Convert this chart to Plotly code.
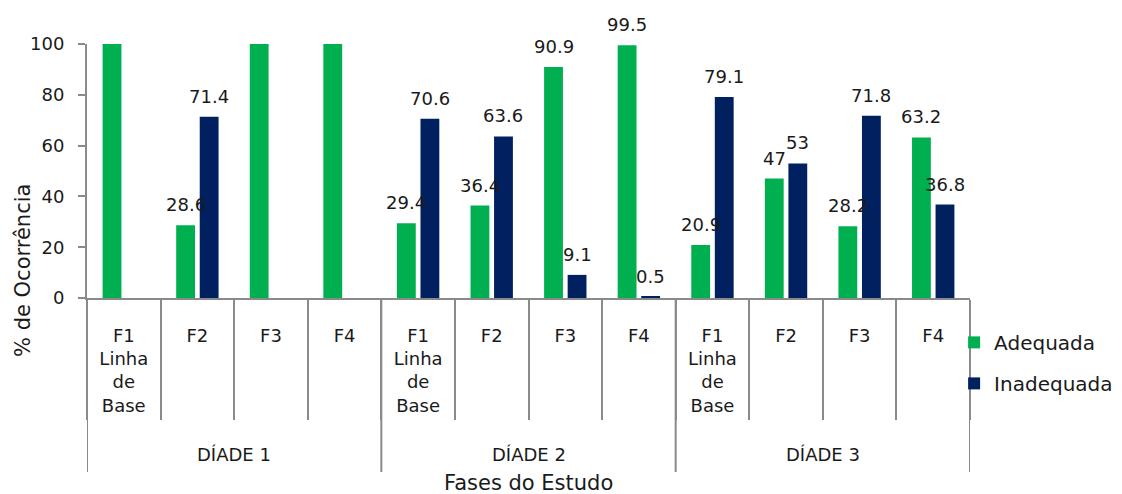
import plotly.graph_objects as go

groups = ["DÍADE 1", "DÍADE 2", "DÍADE 3"]
fase_labels = ["F1<br>Linha<br>de<br>Base", "F2", "F3", "F4"]
adequada = [100, 28.6, 100, 100, 29.4, 36.4, 90.9, 99.5, 20.9, 47, 28.2, 63.2]
inadequada = [0, 71.4, 0, 0, 70.6, 63.6, 9.1, 0.5, 79.1, 53, 71.8, 36.8]
yticks = [0, 20, 40, 60, 80, 100]

GREEN = "#00B050"
NAVY = "#002060"
AXIS = "#8a8a8a"
TXT = "#1a1a1a"
FONT = "DejaVu Sans"

n_per = len(fase_labels)
fases = fase_labels * len(groups)
x_pos = list(range(len(fases)))
bounds = [i - 0.5 for i in range(len(fases) + 1)]
group_bounds = [g * n_per - 0.5 for g in range(len(groups) + 1)]
group_centers = [g * n_per + (n_per - 1) / 2 for g in range(len(groups))]

BARGAP = 0.36
BARGROUPGAP = 0.2
slot = (1 - BARGAP) / 2

fig = go.Figure()
fig.add_trace(go.Bar(x=x_pos, y=adequada, name="Adequada", marker_color=GREEN,
                     marker_line_width=0, legendgroup="a"))
fig.add_trace(go.Bar(x=x_pos, y=inadequada, name="Inadequada", marker_color=NAVY,
                     marker_line_width=0, legendgroup="b"))

annotations = []
for vals, off in ((adequada, -slot / 2), (inadequada, slot / 2)):
    for i, v in zip(x_pos, vals):
        if 0 < v < 100:
            annotations.append(dict(
                x=i + off, y=v, xref="x", yref="y", text="%g" % v,
                showarrow=False, yanchor="bottom", xanchor="center", yshift=8,
                font=dict(size=18, color=TXT, family=FONT)))

PH = 254.0  # plot height in px (for paper offsets below axis)
PW = 883.0
for g, c in zip(groups, group_centers):
    annotations.append(dict(x=c, y=-156 / PH, xref="x", yref="paper", text=g,
                            showarrow=False, yanchor="middle", xanchor="center",
                            font=dict(size=18, color=TXT, family=FONT)))
annotations.append(dict(x=0.5, y=-185 / PH, xref="paper", yref="paper",
                        text="Fases do Estudo", showarrow=False,
                        yanchor="middle", xanchor="center",
                        font=dict(size=21, color=TXT, family=FONT)))
annotations.append(dict(x=-64 / PW, y=27 / PH, xref="paper", yref="paper",
                        text="% de Ocorrência", showarrow=False, textangle=-90,
                        yanchor="middle", xanchor="center",
                        font=dict(size=21, color=TXT, family=FONT)))

shapes = [dict(type="line", xref="x", yref="paper", x0=b, x1=b, y0=0,
               y1=-174 / PH, line=dict(color=AXIS, width=2))
          for b in group_bounds]

# page body has an 8px margin: offset margins so the plot sits where the reference has it
fig.update_layout(
    width=1122, height=494,
    margin=dict(l=79, r=160, t=36, b=204, autoexpand=False),
    paper_bgcolor="white", plot_bgcolor="white",
    font=dict(family=FONT, size=18, color=TXT),
    barmode="group", bargap=BARGAP, bargroupgap=BARGROUPGAP,
    annotations=annotations, shapes=shapes,
    legend=dict(x=0.982, y=-0.098, xanchor="left", yanchor="top",
                font=dict(size=20, family=FONT, color=TXT),
                traceorder="grouped", tracegroupgap=12,
                bgcolor="rgba(0,0,0,0)"),
    showlegend=True,
)
fig.update_yaxes(
    range=[0, 100], tickvals=yticks, showgrid=False, zeroline=False,
    showline=True, linecolor=AXIS, linewidth=2, ticks="outside",
    tickcolor=AXIS, ticklen=7, tickwidth=2, ticklabelstandoff=10,
    tickfont=dict(size=18, color=TXT), automargin=False,
)
fig.update_xaxes(
    range=[bounds[0], bounds[-1]], tickvals=x_pos, ticktext=fases,
    showline=True, linecolor=AXIS, linewidth=2, ticks="",
    ticklabelstandoff=20, showgrid=False, zeroline=False,
    minor=dict(tickvals=bounds, ticks="outside", ticklen=120,
               tickcolor=AXIS, tickwidth=2, showgrid=False),
    tickfont=dict(size=18, color=TXT), automargin=False,
)

fig.write_html("out.html")
